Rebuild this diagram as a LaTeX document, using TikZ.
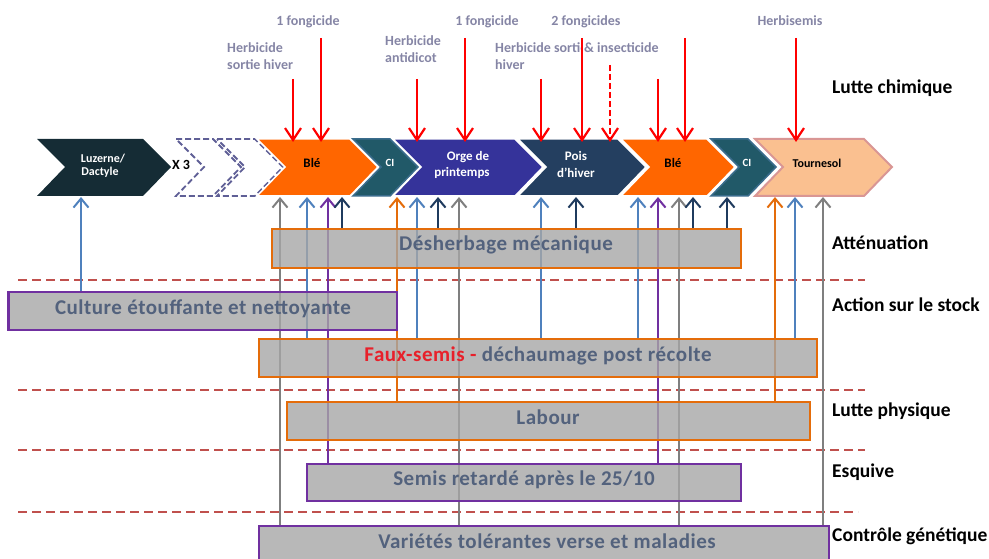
\documentclass[tikz,border=0pt]{standalone}
\usepackage{fontspec}
\setmainfont{Carlito}[BoldFont={Carlito Bold}]
\usetikzlibrary{arrows.meta}
\definecolor{cblue}{HTML}{4F81BD}
\definecolor{cgray}{HTML}{7F7F7F}
\definecolor{cpurp}{HTML}{7030A0}
\definecolor{cnavy}{HTML}{1F3B5E}
\definecolor{corange}{HTML}{E46C0A}
\definecolor{csep}{HTML}{C0504D}
\definecolor{boxgray}{HTML}{A6A6A6}
\definecolor{boxtxt}{HTML}{53627D}
\definecolor{labcol}{HTML}{8585A5}
\definecolor{fauxred}{HTML}{E8202A}
\definecolor{luz}{HTML}{152C35}
\definecolor{ble}{HTML}{FF6600}
\definecolor{cic}{HTML}{215968}
\definecolor{cib}{HTML}{3A6C8C}
\definecolor{orge}{HTML}{35339A}
\definecolor{pois}{HTML}{243F60}
\definecolor{tour}{HTML}{FAC090}
\definecolor{tourb}{HTML}{D99694}
\definecolor{dashchev}{HTML}{5F5F96}
\newcommand\chev[3]{\path[#1] (#2,139) -- (#3,139) -- ({#3+28},167) -- (#3,196) -- (#2,196) -- ({#2+28},167) -- cycle;}
\newcommand\UpArr[3]{\draw[uparr,draw=#1] (#2.north -| #3,0) -- (#3,197);}
\newcommand\BoxDraw[2]{\path[boxfill,draw=#2] (#1.south west) rectangle (#1.north east);}
\begin{document}
\begin{tikzpicture}[x=1pt,y=-1pt,
  toplab/.style={inner sep=0pt, text=labcol, font=\bfseries\fontsize{14}{17}\selectfont},
  rlab/.style={inner sep=0pt, anchor=base west, text=black, font=\bfseries\fontsize{19.5}{23}\selectfont},
  chtxt/.style={inner sep=0pt, anchor=base, text=white, font=\bfseries\fontsize{13}{15}\selectfont},
  boxnode/.style={rectangle, inner sep=0pt, outer sep=0pt},
  boxfill/.style={fill=boxgray, fill opacity=0.8, line width=2.5pt},
  btxt/.style={inner sep=0pt, anchor=base, text=boxtxt, font=\bfseries\fontsize{21}{25}\selectfont\addfontfeature{LetterSpace=2.5}},
  sepline/.style={draw=csep, line width=2.5pt, dash pattern=on 9pt off 5pt},
  uparr/.style={line width=2pt, -{Straight Barb[length=9pt,width=15pt]}},
  redarr/.style={draw=red, line width=2.2pt, -{Straight Barb[length=12pt,width=16pt]}}
]
\useasboundingbox (0,0) rectangle (989,559);

% separators
\draw[sepline] (18,280) -- (865,280);
\draw[sepline] (18,390) -- (865,390);
\draw[sepline] (18,450) -- (865,450);
\draw[sepline] (18,512) -- (858,512);

% box geometry
\path
 (506.5,248.5) node[boxnode, minimum width=469pt, minimum height=39pt] (desh) {}
 (202.75,311) node[boxnode, minimum width=388.5pt, minimum height=38pt] (cul) {}
 (538,358) node[boxnode, minimum width=558pt, minimum height=38pt] (faux) {}
 (548.5,421) node[boxnode, minimum width=523pt, minimum height=38pt] (labo) {}
 (524,482.5) node[boxnode, minimum width=434pt, minimum height=37pt] (sem) {}
 (544,546) node[boxnode, minimum width=570pt, minimum height=40pt] (var) {};

% up arrows
\UpArr{cblue}{cul}{81}
\UpArr{cgray}{var}{280}
\UpArr{cblue}{faux}{307}
\UpArr{cpurp}{sem}{328}
\UpArr{cnavy}{desh}{342}
\UpArr{corange}{labo}{397}
\UpArr{cblue}{faux}{417}
\UpArr{cnavy}{desh}{438}
\UpArr{cgray}{var}{459}
\UpArr{cblue}{faux}{541}
\UpArr{cnavy}{desh}{576}
\UpArr{cblue}{faux}{638}
\UpArr{cpurp}{sem}{658}
\UpArr{cgray}{var}{679}
\UpArr{cnavy}{desh}{693}
\UpArr{cnavy}{desh}{727}
\UpArr{corange}{labo}{775}
\UpArr{cblue}{faux}{795}
\UpArr{cgray}{var}{823}

% boxes drawn on top of lines
\BoxDraw{desh}{corange}
\BoxDraw{cul}{cpurp}
\BoxDraw{faux}{corange}
\BoxDraw{labo}{corange}
\BoxDraw{sem}{cpurp}
\BoxDraw{var}{cpurp}

% box texts
\node[btxt] (deshT) at (506,251) {Désherbage mécanique};
\node[btxt] (culT) at (203,314) {Culture étouffante et nettoyante};
\node[btxt] (fauxT) at (538,361) {{\color{fauxred}Faux-semis -} déchaumage post récolte};
\node[btxt] (laboT) at (548,424) {Labour};
\node[btxt] (semT) at (524,485) {Semis retardé après le 25/10};
\node[btxt] (varT) at (547,548) {Variétés tolérantes verse et maladies};

% chevrons
\chev{fill=luz}{37}{143}
\chev{draw=dashchev, line width=1.8pt, dash pattern=on 6pt off 3pt}{176}{213}
\chev{draw=dashchev, line width=1.8pt, dash pattern=on 6pt off 3pt}{217}{255}
\chev{fill=ble, draw=white, line width=1.5pt}{257}{350}
\chev{fill=cic, draw=cib, line width=1.5pt}{353}{390}
\chev{fill=orge, draw=white, line width=1.5pt}{393}{515}
\chev{fill=pois, draw=white, line width=1.5pt}{518}{618}
\chev{fill=ble, draw=white, line width=1.5pt}{621}{707}
\chev{fill=cic, draw=cib, line width=1.5pt}{711}{748}
\chev{fill=tour, draw=tourb, line width=2pt}{755}{864}

% chevron texts
\node[chtxt, font=\bfseries\fontsize{12}{14}\selectfont] (luzA) at (103,163) {Luzerne/};
\node[chtxt, font=\bfseries\fontsize{12}{14}\selectfont] (luzB) at (100,176) {Dactyle};
\node[chtxt, text=black, font=\bfseries\fontsize{14}{16}\selectfont] (x3) at (181,170) {X 3};
\node[chtxt, text=black] (ble1) at (312,168) {Blé};
\node[chtxt, font=\bfseries\fontsize{11}{13}\selectfont] (ci1) at (390,167) {CI};
\node[chtxt] (orgA) at (468,161) {Orge de};
\node[chtxt] (orgB) at (462,177) {printemps};
\node[chtxt] (poiA) at (576,161) {Pois};
\node[chtxt] (poiB) at (576,178) {d’hiver};
\node[chtxt, text=black] (ble2) at (673,168) {Blé};
\node[chtxt, font=\bfseries\fontsize{11}{13}\selectfont] (ci2) at (747,167) {CI};
\node[chtxt, text=black, font=\bfseries\fontsize{12}{14}\selectfont] (tou) at (817,168) {Tournesol};

% top labels
\node[toplab, anchor=base] (f1) at (308,26) {1 fongicide};
\node[toplab, anchor=base west] (h1a) at (227,53) {Herbicide};
\node[toplab, anchor=base west] (h1b) at (227,70) {sortie hiver};
\node[toplab, anchor=base west] (h2a) at (385,46) {Herbicide};
\node[toplab, anchor=base west] (h2b) at (385,63) {antidicot};
\node[toplab, anchor=base] (f2) at (487,26) {1 fongicide};
\node[toplab, anchor=base west] (h3a) at (495,53) {Herbicide sortie};
\node[toplab, anchor=base west] (h3b) at (495,70) {hiver};
\node[toplab, anchor=base west, fill=white, inner xsep=3pt, inner ysep=1pt] (ins) at (581,53) {\& insecticide};
\node[toplab, anchor=base] (f3) at (586,26) {2 fongicides};
\node[toplab, anchor=base] (hs) at (790,26) {Herbisemis};

% red arrows
\draw[redarr] (293,79) -- (293,142);
\draw[redarr] (321,38) -- (321,142);
\draw[redarr] (417,79) -- (417,142);
\draw[redarr] (465,38) -- (465,142);
\draw[redarr] (541,79) -- (541,142);
\draw[redarr] (582,38) -- (582,142);
\draw[redarr, dash pattern=on 6pt off 3pt] (610,65) -- (610,142);
\draw[redarr] (658,79) -- (658,142);
\draw[redarr] (685,38) -- (685,142);
\draw[redarr] (796,38) -- (796,142);

% right labels
\node[rlab] (r1) at (832,94) {Lutte chimique};
\node[rlab] (r2) at (832,249) {Atténuation};
\node[rlab] (r3) at (832,311) {Action sur le stock};
\node[rlab] (r4) at (832,416) {Lutte physique};
\node[rlab] (r5) at (832,477) {Esquive};
\node[rlab] (r6) at (832,541) {Contrôle génétique};
\end{tikzpicture}
\end{document}
